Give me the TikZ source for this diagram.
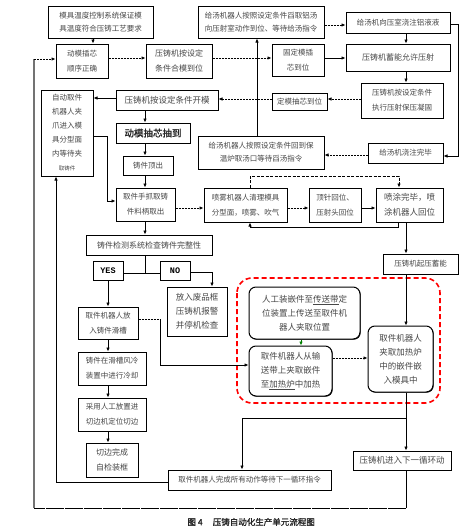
\documentclass[tikz,border=0pt]{standalone}
\usepackage{fontspec}
\setmainfont{Noto Sans CJK SC}
\newfontfamily\cjkbold[FakeBold=1.5]{Noto Sans CJK SC}
\newfontfamily\monob{Liberation Mono}
\usetikzlibrary{arrows.meta,shadows}
\newcommand\mkbox[7]{\node[#6, minimum width={(#4-#2)*1pt}, minimum height={(#5-#3)*1pt}] (#1) at ({(#2+#4)/2},{(#3+#5)/2}) {#7};}
\begin{document}
\begin{tikzpicture}[x=1pt,y=-1pt,
  box/.style={draw=black, line width=1pt, fill=white, text=black!72, align=center, inner sep=1pt, font=\fontsize{7.5}{13}\selectfont,
    drop shadow={shadow xshift=0.7pt, shadow yshift=-0.7pt, fill=black, opacity=1}},
  rbox/.style={box, rounded corners=7pt},
  big/.style={font=\fontsize{8.5}{14}\selectfont},
  arr/.style={-{Latex[length=4pt,width=3.4pt]}, line width=0.7pt},
  ln/.style={line width=0.7pt},
  dsh/.style={dash pattern=on 2pt off 1pt}]
\fill[white] (0,0) rectangle (469,530);
\useasboundingbox (0,0) rectangle (469,530);
% boxes
\mkbox{A}{48}{6}{153}{38}{box}{模具温度控制系统保证模\\具温度符合压铸工艺要求}
\mkbox{F}{198}{6}{324}{38}{box}{给汤机器人按照设定条件舀取铝汤\\向压射室动作到位、等待给汤指令}
\mkbox{G}{346}{12}{450}{33}{box}{给汤机向压室浇注铝液液}
\mkbox{B}{56}{44}{108}{78}{box, font=\fontsize{7.5}{15}\selectfont}{动模插芯\\顺序正确}
\mkbox{C}{146}{44}{212}{78}{box, font=\fontsize{8}{15}\selectfont}{压铸机按设定\\条件合模到位}
\mkbox{H}{272}{44}{324}{76}{box, font=\fontsize{7.5}{15}\selectfont}{固定模插\\芯到位}
\mkbox{I}{346}{44}{450}{71}{box, font=\fontsize{8}{13}\selectfont}{压铸机蓄能允许压射}
\mkbox{J}{361}{83}{443}{118}{box, font=\fontsize{7.5}{15}\selectfont}{压铸机按设定条件\\执行压射保压凝固}
\mkbox{K}{272}{93}{327}{110}{box}{定模抽芯到位}
\mkbox{E}{116}{90}{218}{110}{box, font=\fontsize{8.5}{13}\selectfont}{压铸机按设定条件开模}
\mkbox{D}{41}{90}{93}{176}{box, font=\fontsize{7.5}{14}\selectfont}{自动取件\\机器人夹\\爪进入模\\具分型面\\内等待夹\\{\fontsize{5.5}{6}\selectfont 取铸件}}
\mkbox{X}{116}{123}{190}{143}{box, text=black!85, font=\fontsize{9.5}{13}\cjkbold}{动模抽芯抽到}
\mkbox{L}{198}{136}{324}{169}{box}{给汤机器人按照设定条件回到保\\温炉取汤口等待舀汤指令}
\mkbox{M}{368}{143}{443}{163}{box}{给汤机浇注完毕}
\mkbox{Y}{123}{156}{173}{175}{box}{铸件顶出}
\mkbox{W}{116}{188}{175}{221}{box, font=\fontsize{7.5}{15}\selectfont}{取件手抓取铸\\件料柄取出}
\mkbox{N}{204}{188}{287}{222}{box, font=\fontsize{7.5}{15}\selectfont}{喷雾机器人清理模具\\分型面，喷雾、吹气}
\mkbox{O}{309}{188}{361}{222}{box, font=\fontsize{7.5}{15}\selectfont}{顶针回位、\\压射头回位}
\mkbox{P}{376}{188}{443}{222}{box, font=\fontsize{8.5}{15}\selectfont}{喷涂完毕，喷\\涂机器人回位}
\mkbox{Z}{86}{235}{212}{255}{box, font=\fontsize{8}{13}\selectfont}{铸件检测系统检查铸件完整性}
\mkbox{Q}{383}{254}{458}{274}{box}{压铸机起压蓄能}
\mkbox{YES}{93}{261}{123}{280}{box, text=black, font=\fontsize{8.5}{10}\monob\bfseries}{YES}
\mkbox{NO}{160}{261}{190}{280}{box, text=black, font=\fontsize{8.5}{10}\monob\bfseries}{NO}
\mkbox{AA}{167}{287}{227}{336}{box, big}{放入废品框\\压铸机报警\\并停机检查}
\mkbox{BB}{78}{307}{138}{339}{box, font=\fontsize{7.5}{15}\selectfont}{取件机器人放\\入铸件滑槽}
\draw[red, line width=1.6pt, dash pattern=on 5pt off 3pt, rounded corners=15pt] (237,278) rectangle (440,403);
\mkbox{S}{249}{287}{360}{339}{rbox, big}{人工装嵌件至\underline{传送带}定\\位装置上传送至取件机\\器人夹取位置}
\mkbox{T}{249}{346}{332}{396}{rbox, big}{取件机器人从输\\送带上夹取嵌件\\至\underline{加热炉}中加热}
\mkbox{R}{368}{326}{433}{392}{rbox, big}{取件机器人\\夹取加热炉\\中的嵌件嵌\\入模具中}
\mkbox{CC}{78}{352}{146}{385}{box, font=\fontsize{7.5}{15}\selectfont}{铸件在滑槽风冷\\装置中进行冷却}
\mkbox{DD}{78}{398}{146}{431}{box, font=\fontsize{7.5}{15}\selectfont}{采用人工放置进\\切边机定位切边}
\mkbox{EE}{86}{443}{138}{477}{box, font=\fontsize{8}{15}\selectfont}{切边完成\\自检装框}
\mkbox{U}{353}{451}{451}{470}{box, font=\fontsize{8.5}{13}\selectfont}{压铸机进入下一循环动}
\mkbox{V}{168}{470}{331}{490}{box}{取件机器人完成所有动作等待下一循环指令}
\node[font=\fontsize{8.5}{10}\cjkbold, text=black!85, anchor=west] (cap) at (184,522) {图 4\hspace{1.2em}压铸自动化生产单元流程图};
% connectors top
\draw[arr] (A.south -| 93,0) -- (B.north -| 93,0);
\draw[arr, dsh] (B.east |- 0,58) -- (C.west |- 0,58);
\draw[arr, dsh] (C.east |- 0,58) -- (H.west |- 0,58);
\draw[arr] (H.east |- 0,58) -- (I.west |- 0,58);
\draw[arr, dsh] (F.east |- 0,25) -- (G.west |- 0,25);
\draw[arr] (G.south -| 406,0) -- (I.north -| 406,0);
\draw[arr] (I.south -| 406,0) -- (J.north -| 406,0);
\draw[arr, dsh] (J.west |- 0,99) -- (K.east |- 0,99);
\draw[arr, dsh] (K.west |- 0,99) -- (E.east |- 0,99);
\draw[arr] (E.west |- 0,98) -- (D.east |- 0,98);
\draw[arr] (E.south -| 145,0) -- (X.north -| 145,0);
\draw[arr] (X.south -| 145,0) -- (Y.north -| 145,0);
\draw[arr] (Y.south -| 145,0) -- (W.north -| 145,0);
\draw[arr] (W.south -| 145,0) -- (Z.north -| 145,0);
\draw[arr] (G.east |- 0,24) -| (458,156) -- (M.east |- 0,156);
\draw[arr, dsh] (M.west |- 0,155) -- (L.east |- 0,155);
\draw[arr] (L.north -| 257,0) -- (F.south -| 257,0);
\draw[arr] (D.east |- 0,136) -| (107,201) -- (W.west |- 0,201);
\draw[arr, dsh] (W.east |- 0,208) -- (N.west |- 0,208);
\draw[arr, dsh] (N.east |- 0,208) -- (O.west |- 0,208);
\draw[arr] (O.east |- 0,208) -- (P.west |- 0,208);
\draw[arr, dash pattern=on 3pt off 1.5pt] (N.north -| 250,0) -- (250,176) -| (P.north -| 399,0);
\draw[arr] (P.south -| 398,0) -- (398,227) -| (N.south -| 250,0);
\draw[arr] (P.south -| 406,0) -- (Q.north -| 406,0);
\draw[arr] (Q.south -| 406,0) -- (R.north -| 406,0);
% decision
\draw[ln] (Z.south -| 145,0) -- (145,273);
\draw[ln] (YES.east |- 0,273) -- (NO.west |- 0,273);
\draw[arr] (YES.south -| 108,0) -- (BB.north -| 108,0);
\draw[arr] (NO.east |- 0,272) -| (AA.north -| 212,0);
\draw[ln, dsh] (BB.east |- 0,319) -- (160,319);
\coordinate (bt) at (160,319);
\draw[arr] (bt) |- (T.west |- 0,365);
\draw[arr] (BB.south -| 108,0) -- (CC.north -| 108,0);
\draw[arr] (CC.south -| 108,0) -- (DD.north -| 108,0);
\draw[arr] (DD.south -| 108,0) -- (EE.north -| 108,0);
% insert loop
\draw[arr, green!50!black] (S.south -| 301,0) -- (T.north -| 301,0);
\draw[arr, dsh] (T.east |- 0,358) -- (R.west |- 0,358);
\draw[arr] (R.south -| 406,0) -- (U.north -| 406,0);
\coordinate (j1) at (406,418);
\draw[arr] (j1) -| (V.north -| 242,0);
% return loops
\draw[ln] (U.south -| 406,0) -- (406,508);
\draw[line width=0.9pt, dash pattern=on 18pt off 1pt] (406,508) -- (34,508);
\draw[line width=1.3pt, black!55] (34,508) -- (34,59);
\draw[arr, dsh] (34,59) -- (B.west |- 0,59);
\draw[arr] (V.west |- 0,482) -- (56,482) -- (D.south -| 56,0);
\end{tikzpicture}
\end{document}
